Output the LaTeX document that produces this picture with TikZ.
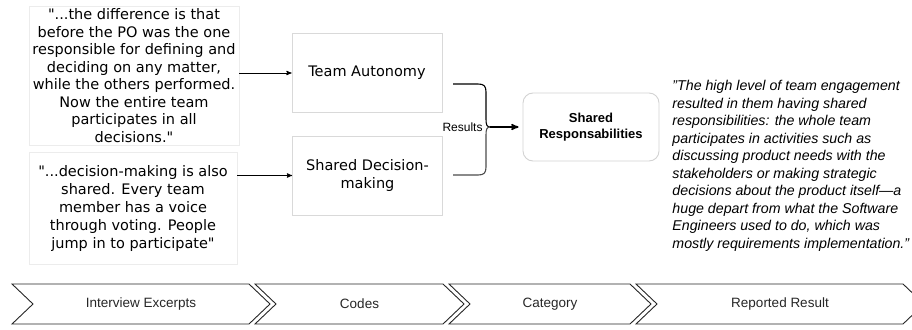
\documentclass[tikz,border=0pt]{standalone}
\usepackage{fontspec}
\setmainfont{Liberation Sans}
\newfontfamily\verdana{DejaVu Sans}
\usetikzlibrary{positioning, arrows}

\tikzset{
  quote/.style={draw=gray!15, align=center, inner sep=0pt,
    font=\verdana\fontsize{14.5}{17.5}\selectfont},
  code/.style={draw=gray!30, align=center, minimum width=150pt, minimum height=79pt,
    font=\verdana\fontsize{14.5}{17.5}\selectfont},
  category/.style={draw=gray!35, rounded corners=10pt, align=center,
    minimum width=136pt, minimum height=68pt, font=\bfseries\fontsize{13}{16.5}\selectfont},
  stage/.style={text=black!85, font=\fontsize{13.5}{16}\selectfont}
}

\begin{document}
\begin{tikzpicture}[x=1pt,y=-1pt,>=stealth',line width=0.9pt]
\useasboundingbox (0,0) rectangle (912,329);

% interview excerpts
\node[quote, minimum width=210pt, minimum height=139pt] (q1) at (134,75.5)
  {"...the difference is that\\before the PO was the one\\responsible for defining and\\deciding on any matter,\\while the others performed.\\Now the entire team\\participates in all\\decisions."};
\node[quote, minimum width=208pt, minimum height=112pt, font=\verdana\fontsize{14.5}{18}\selectfont] (q2) at (133,208)
  {"...decision-making is also\\shared. Every team\\member has a voice\\through voting. People\\jump in to participate"};

% codes
\node[code] (ta) at (367,73) {Team Autonomy};
\node[code] (sd) at (367.5,175.5) {Shared Decision-\\making};

\draw[->] (q1.east |- ta.west) -- (ta.west);
\draw[->] (q2.east |- sd.west) -- (sd.west);

% brace into the category
\coordinate (tip) at (490,127);
\draw[line width=1.1pt] (453,84) -- (478,84) .. controls (484,84) and (486,86) .. (486,92)
  -- (486,119) .. controls (486,125) and (487,127) .. (tip);
\draw[black!70, line width=1.1pt] (tip) .. controls (487,127) and (486,129) .. (486,135)
  -- (486,167) .. controls (486,173) and (484,175) .. (478,175) -- (453,175);
\node[anchor=east, inner sep=0pt, font=\fontsize{12}{14}\selectfont] (res) at (483,127) {Results};

\node[category] (sr) at (591,127) {Shared\\Responsabilities};
\draw[->, line width=1.5pt, shorten >=4pt] (tip) -- (sr.west);

% reported result
\node[anchor=north west, align=left, inner sep=0pt, font=\itshape\fontsize{14.2}{17.5}\selectfont] (rep) at (672,80)
  {"The high level of team engagement\\resulted in them having shared\\responsibilities: the whole team\\participates in activities such as\\discussing product needs with the\\stakeholders or making strategic\\decisions about the product itself—a\\huge depart from what the Software\\Engineers used to do, which was\\mostly requirements implementation."};

% stages along the bottom
\foreach \xa/\xb/\name [count=\i] in {12/249/Interview Excerpts, 255/443/Codes, 449/630/Category, 636/903/Reported Result}{
  \draw[black!85] (\xa,284) -- (\xb,284) -- ({\xb+21},304) -- (\xb,324) -- (\xa,324) -- ({\xa+21},304) -- cycle;
  \node[stage] (stage\i) at ({(\xa+\xb+21)/2},304) {\name};
}
\end{tikzpicture}
\end{document}
